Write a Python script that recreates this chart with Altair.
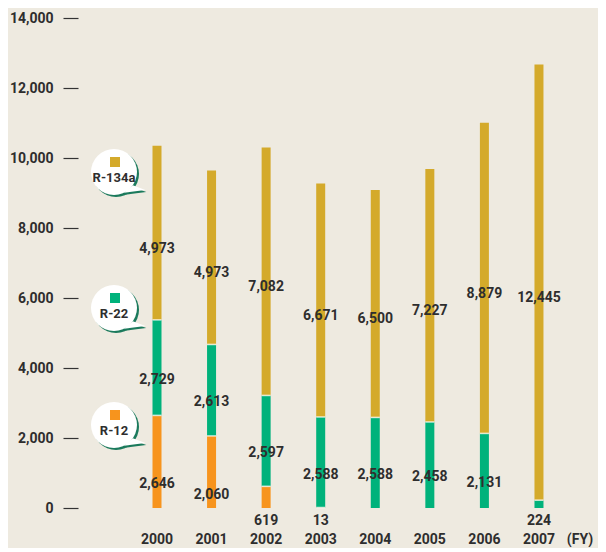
import altair as alt
import pandas as pd

# ---------------- data ----------------
years = [2000, 2001, 2002, 2003, 2004, 2005, 2006, 2007]
r12 = [2646, 2060, 619, 13, 0, 0, 0, 0]
r22 = [2729, 2613, 2597, 2588, 2588, 2458, 2131, 224]
r134a = [4973, 4973, 7082, 6671, 6500, 7227, 8879, 12445]
series = ["R-12", "R-22", "R-134a"]
colors = ["#f7941d", "#00b27b", "#d4aa2b"]
y_ticks = [0, 2000, 4000, 6000, 8000, 10000, 12000, 14000]

# ---------------- style / layout ----------------
FONT = "Roboto"
TXT = "#2e2e2e"
BG = "#eeeae0"
label_shift = {"R-12": 650, "R-22": 350, "R-134a": 450}   # nudge labels down a bit
legend_px = [36, 36, 36]          # bubble centres (plot pixels), same order as series
legend_py = [407, 290, 154]
TAIL = "M 0.42 0.9 L 1.36 0.78 L 0.82 0.58 Z"
BUB = 2116

rows = []
for i, yr in enumerate(years):
    base = 0
    for s, vals in zip(series, [r12, r22, r134a]):
        v = vals[i]
        rows.append(dict(year=str(yr), series=s, value=v, start=base, end=base + v))
        base += v
df = pd.DataFrame(rows)
df["mid"] = (df["start"] + df["end"]) / 2

lab = df[df["value"] > 0].copy()
lab["ly"] = [(-370 if v < 700 else m - label_shift[s]) for v, m, s in zip(lab["value"], lab["mid"], lab["series"])]
lab["txt"] = lab["value"].map(lambda v: f"{v:,}")

# separators between stacked segments
seps = []
for i, yr in enumerate(years):
    if r12[i] > 0 and r22[i] > 0:
        seps.append(dict(year=str(yr), y=r12[i]))
    if r22[i] > 0 and r134a[i] > 0:
        seps.append(dict(year=str(yr), y=r12[i] + r22[i]))
sep_df = pd.DataFrame(seps)

leg = pd.DataFrame(dict(name=series, color=colors, px=legend_px, py=legend_py))

xscale = alt.Scale(paddingInner=0, paddingOuter=0.673, align=0.704)
yscale = alt.Scale(domain=[0, 14000])
xsort = [str(y) for y in years]

x_enc = alt.X("year:O", scale=xscale, sort=xsort,
              axis=alt.Axis(domain=False, ticks=False, labelPadding=24, labelAngle=0,
                            labelFont=FONT, labelFontSize=14, labelFontWeight="bold",
                            labelColor=TXT, title=None))

bars = alt.Chart(df).mark_bar(size=9).encode(
    x=x_enc,
    y=alt.Y("start:Q", scale=yscale,
            axis=alt.Axis(values=y_ticks, format=",d", domain=False, grid=False,
                          tickSize=15, tickColor="#333333", tickWidth=1.2,
                          labelPadding=10, labelFont=FONT, labelFontSize=14,
                          labelFontWeight="bold", labelColor=TXT, title=None)),
    y2="end:Q",
    color=alt.Color("series:N", scale=alt.Scale(domain=series, range=colors), legend=None),
)

sep = alt.Chart(sep_df).mark_tick(size=9, thickness=1.6, color="white", orient="horizontal").encode(
    x=alt.X("year:O", scale=xscale, sort=xsort),
    y=alt.Y("y:Q", scale=yscale),
)

labels = alt.Chart(lab).mark_text(font=FONT, fontSize=14, fontWeight="bold", color=TXT,
                                  baseline="middle", align="center").encode(
    x=alt.X("year:O", scale=xscale, sort=xsort),
    y=alt.Y("ly:Q", scale=yscale),
    text="txt:N",
)

fy = alt.Chart(pd.DataFrame({"t": ["(FY)"]})).mark_text(
    font=FONT, fontSize=14, fontWeight="bold", color=TXT, baseline="top", align="center"
).encode(x=alt.value(502), y=alt.value(515), text="t:N")

base_leg = alt.Chart(leg)
shadow_c = base_leg.mark_circle(size=BUB, fill="#1b7a5c", opacity=1, strokeWidth=0).encode(
    x=alt.X("sx:Q", scale=None), y=alt.Y("sy:Q", scale=None)
).transform_calculate(sx="datum.px + 2", sy="datum.py + 2")
shadow_t = base_leg.mark_point(shape=TAIL, filled=True, size=BUB, fill="#1b7a5c", opacity=1, strokeWidth=0).encode(
    x=alt.X("sx:Q", scale=None), y=alt.Y("sy:Q", scale=None)
).transform_calculate(sx="datum.px + 1", sy="datum.py + 2")
white_c = base_leg.mark_circle(size=BUB, fill="#ffffff", opacity=1, strokeWidth=0).encode(
    x=alt.X("px:Q", scale=None), y=alt.Y("py:Q", scale=None)
)
white_t = base_leg.mark_point(shape=TAIL, filled=True, size=BUB, fill="#ffffff", opacity=1, strokeWidth=0).encode(
    x=alt.X("px:Q", scale=None), y=alt.Y("py:Q", scale=None)
)
square = base_leg.mark_square(size=100, opacity=1).encode(
    x=alt.X("sqx:Q", scale=None), y=alt.Y("sqy:Q", scale=None),
    color=alt.Color("color:N", scale=None),
).transform_calculate(sqx="datum.px + 1", sqy="datum.py - 10")
leg_text = base_leg.mark_text(font=FONT, fontSize=13, fontWeight="bold", color=TXT,
                              baseline="middle", align="center").encode(
    x=alt.X("px:Q", scale=None), y=alt.Y("ty:Q", scale=None), text="name:N"
).transform_calculate(ty="datum.py + 6")

chart = alt.layer(bars, sep, labels, fy, shadow_c, shadow_t, white_c, white_t, square, leg_text).properties(
    width=510, height=490,
    padding={"left": 70, "top": 10, "right": 10, "bottom": 40},
    autosize=alt.AutoSizeParams(type="none"),
    background=BG,
).configure_view(stroke=None)

chart.save("out.html", embed_options={"renderer": "svg", "actions": False})
